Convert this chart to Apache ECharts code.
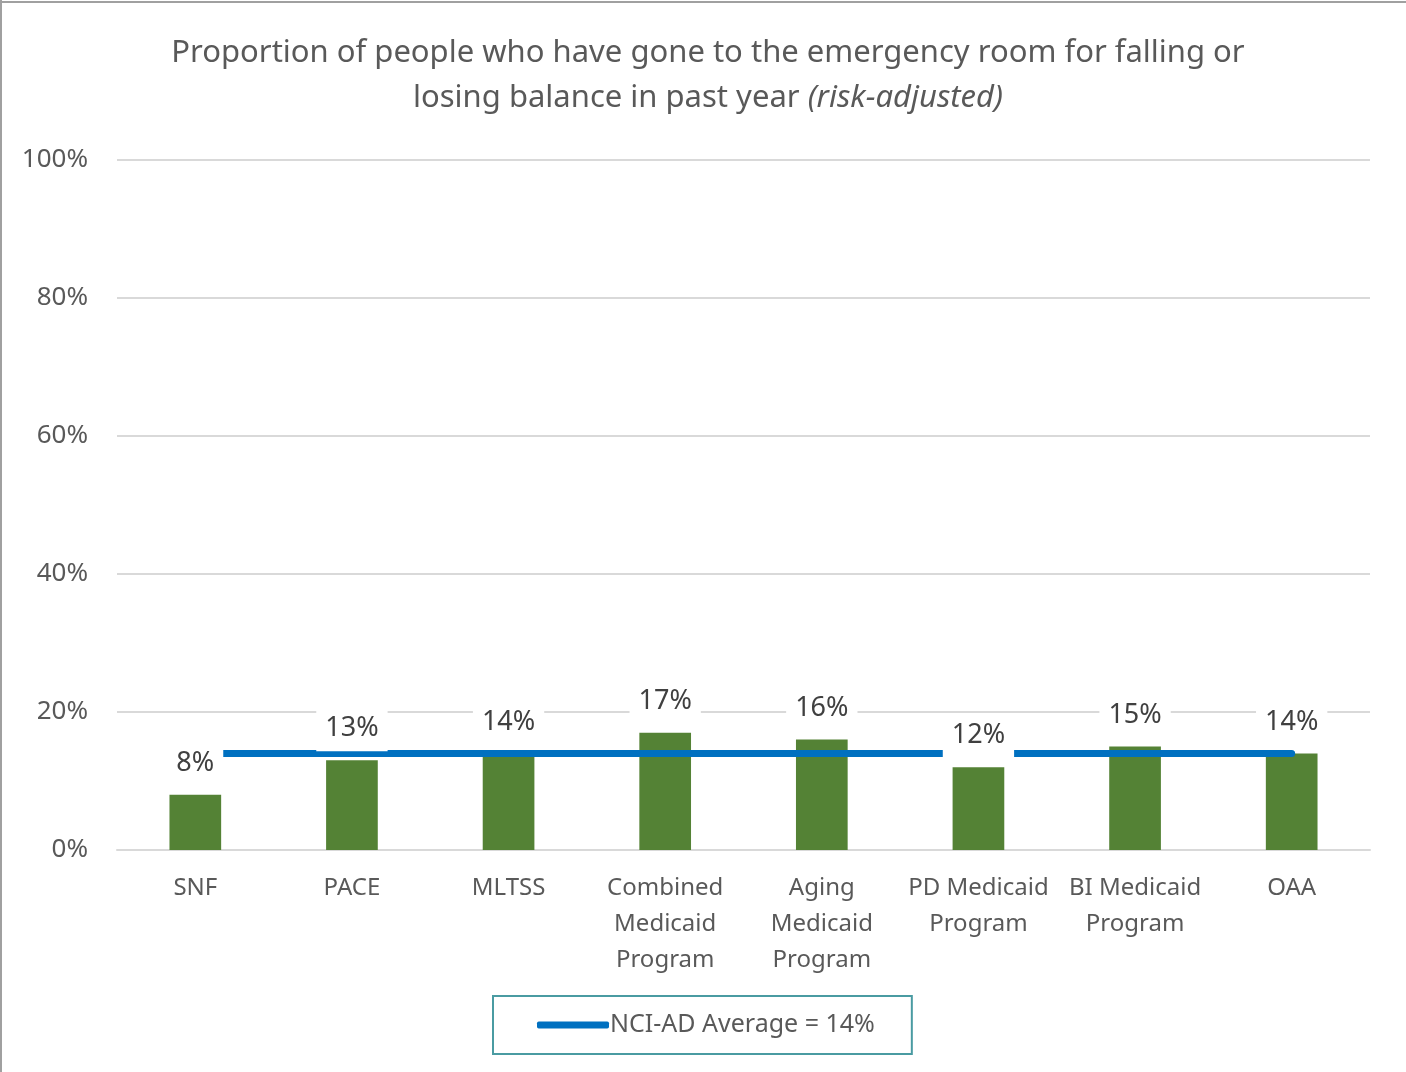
<!DOCTYPE html>
<html>
<head>
<meta charset="utf-8">
<script src="https://cdn.jsdelivr.net/npm/echarts@6/dist/echarts.min.js"></script>
<style>
html,body{margin:0;padding:0;background:#fff;}
#chart{width:1406px;height:1072px;}
</style>
</head>
<body>
<div id="chart"></div>
<script>
const categories = ['SNF', 'PACE', 'MLTSS', 'Combined\nMedicaid\nProgram', 'Aging\nMedicaid\nProgram', 'PD Medicaid\nProgram', 'BI Medicaid\nProgram', 'OAA'];
const values = [8, 13, 14, 17, 16, 12, 15, 14];
const average = 14;
const averageName = 'NCI-AD Average = 14%';
const yMin = 0, yMax = 100, yStep = 20;

const FONT = 'Noto Sans';
const chart = echarts.init(document.getElementById('chart'), null, {renderer: 'canvas'});
chart.setOption({
  backgroundColor: '#fff',
  animation: false,
  textStyle: {fontFamily: FONT},
  graphic: [
    {type: 'line', shape: {x1: 0, y1: 2, x2: 1406, y2: 2}, style: {stroke: '#A0A0A0', lineWidth: 2}},
    {type: 'line', shape: {x1: 1, y1: 0, x2: 1, y2: 1072}, style: {stroke: '#A0A0A0', lineWidth: 2}}
  ],
  title: {
    text: 'Proportion of people who have gone to the emergency room for falling or\nlosing balance in past year {i|(risk-adjusted)}',
    left: 703,
    top: 26,
    textAlign: 'center',
    textStyle: {
      fontFamily: FONT, fontSize: 31, fontWeight: 'normal', color: '#595959', lineHeight: 45,
      rich: {i: {fontFamily: FONT, fontSize: 31, fontStyle: 'italic', color: '#595959', lineHeight: 45}}
    }
  },
  grid: {left: 117, right: 36, top: 160, bottom: 222, containLabel: false},
  xAxis: {
    type: 'category',
    data: categories,
    axisLine: {show: true, lineStyle: {color: '#D9D9D9', width: 2}},
    axisTick: {show: false},
    axisLabel: {fontFamily: FONT, fontSize: 24, color: '#595959', lineHeight: 36, margin: 20, interval: 0}
  },
  yAxis: {
    type: 'value', min: yMin, max: yMax, interval: yStep,
    axisLine: {show: false}, axisTick: {show: false},
    splitLine: {lineStyle: {color: '#D9D9D9', width: 2}},
    axisLabel: {fontFamily: FONT, fontSize: 26, color: '#595959', margin: 29, formatter: v => v + '%'}
  },
  legend: {
    data: [{name: averageName, icon: 'roundRect'}],
    left: 493,
    top: 996,
    orient: 'horizontal',
    itemWidth: 72, itemHeight: 7, itemGap: 0,
    borderColor: '#4A9BA2', borderWidth: 2,
    padding: [15, 37, 15, 44],
    textStyle: {fontFamily: FONT, fontSize: 25, color: '#595959', lineHeight: 28, padding: [0, 0, 0, -4]}
  },
  series: [
    {
      type: 'bar', name: 'values', data: values, barWidth: '33%', z: 2,
      itemStyle: {color: '#548235'}, silent: true
    },
    {
      type: 'line', name: averageName, data: categories.map(() => average), z: 3,
      symbol: 'none', lineStyle: {color: '#0070C0', width: 7, cap: 'round'}, itemStyle: {color: '#0070C0'}, silent: true
    },
    {
      type: 'bar', name: 'labels', data: values, barWidth: '33%', barGap: '-100%', z: 4,
      itemStyle: {color: 'rgba(0,0,0,0)'}, silent: true,
      label: {
        show: true, position: 'top', distance: 9,
        fontFamily: FONT, fontSize: 27, color: '#404040', lineHeight: 27,
        backgroundColor: '#fff', padding: [9, 9, 9, 9],
        formatter: p => p.value + '%'
      }
    }
  ]
});
</script>
</body>
</html>
